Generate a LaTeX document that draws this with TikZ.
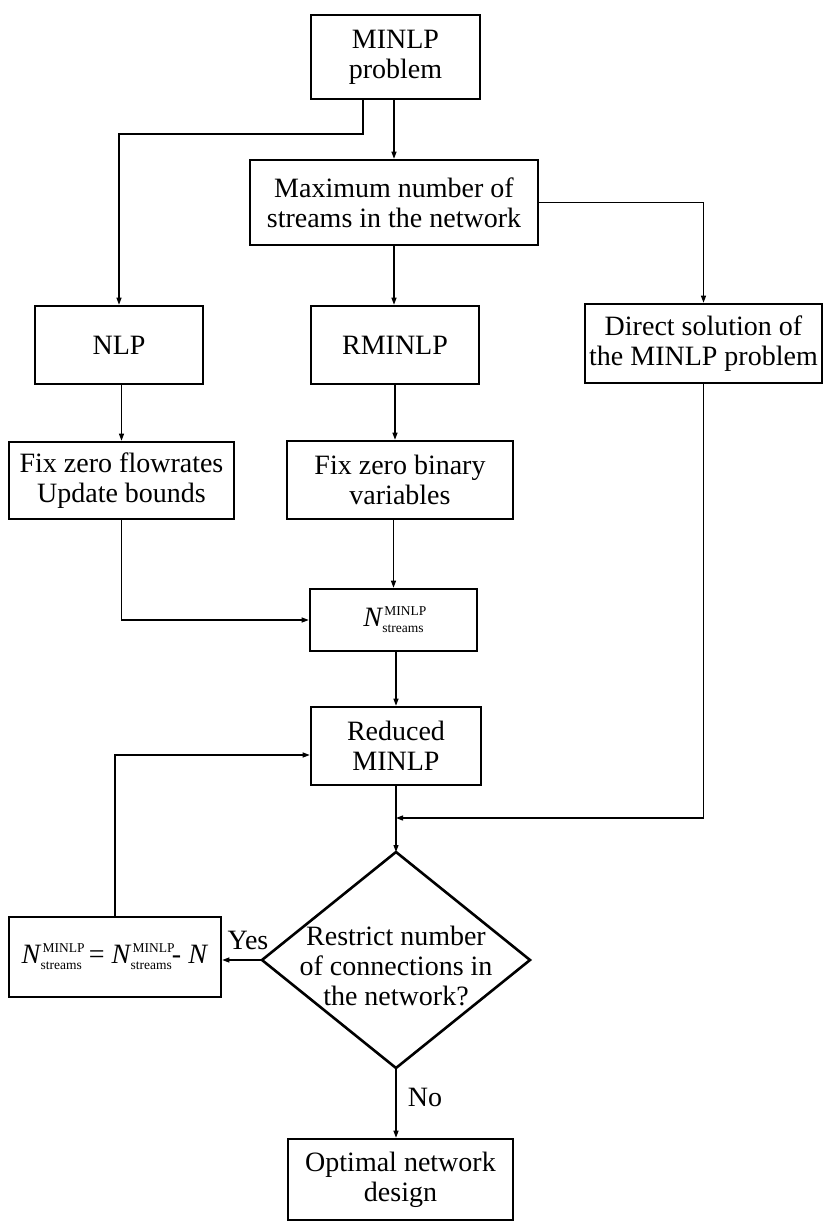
\documentclass[tikz,border=0pt]{standalone}
\usepackage{fontspec}
\setmainfont{Liberation Serif}
\usetikzlibrary{arrows.meta}

% N with stacked MINLP / streams indices
\newcommand{\Nms}{\textit{N}\raisebox{11pt}{\makebox[0pt][l]{\fontsize{13.5}{13.5}\selectfont\kern1pt MINLP}}\raisebox{-6pt}{\fontsize{13.5}{13.5}\selectfont\kern-1pt streams}}

\begin{document}
\begin{tikzpicture}[x=1pt,y=-1pt,
  every node/.style={font=\fontsize{28}{30}\selectfont},
  box/.style={draw, line width=2.6pt, rectangle, inner sep=0pt, align=center},
  conn/.style={line width=1.2pt, -{Triangle[length=7pt,width=5pt]}},
  lbl/.style={inner sep=0pt}]
\useasboundingbox (0,0) rectangle (825,1226);

% process boxes
\node[box, minimum width=169pt, minimum height=84pt] (prob) at (395.5,57) {MINLP\\problem};
\node[box, minimum width=288pt, minimum height=85pt] (max) at (394,202.5) {Maximum number of\\streams in the network};
\node[box, minimum width=168pt, minimum height=78pt] (nlp) at (119,345) {NLP};
\node[box, minimum width=168pt, minimum height=78pt] (rminlp) at (395,345) {RMINLP};
\node[box, minimum width=237pt, minimum height=79pt] (direct) at (703.5,343.5) {Direct solution of\\the MINLP problem};
\node[box, minimum width=225pt, minimum height=77pt] (fixf) at (121.5,480.5) {Fix zero flowrates\\Update bounds};
\node[box, minimum width=226pt, minimum height=78pt] (fixb) at (400,480) {Fix zero binary\\variables};
\node[box, minimum width=167pt, minimum height=62pt] (nstr) at (393.5,620) {\Nms};
\node[box, minimum width=170pt, minimum height=78pt] (red) at (396,746) {Reduced\\MINLP};
\node[box, minimum width=212pt, minimum height=80pt] (nbox) at (115,957) {\Nms\ = \Nms- \textit{N}};
\node[box, minimum width=225pt, minimum height=81pt] (opt) at (400.5,1179.5) {Optimal network\\design};

% decision diamond
\coordinate (dT) at (396,852);
\coordinate (dR) at (530,960);
\coordinate (dB) at (396,1068);
\coordinate (dL) at (262,960);
\draw[line width=2.6pt, line join=miter] (dT) -- (dR) -- (dB) -- (dL) -- cycle;
\node[align=center, inner sep=0pt] (dq) at (396,966) {Restrict number\\of connections in\\the network?};

% junction points
\coordinate (split) at (363,134);
\coordinate (jn) at (396,818);

% connectors
\draw[conn] (prob.south -| max.north) -- (max.north);
\draw[conn] (prob.south -| split) -- (split) -| (nlp.north);
\draw[conn] (max.east) -| (direct.north);
\draw[conn] (max.south) -- (max.south |- rminlp.north);
\draw[conn] (nlp.south -| fixf.north) -- (fixf.north);
\draw[conn] (rminlp.south) -- (rminlp.south |- fixb.north);
\draw[conn] (fixf.south) |- (nstr.west);
\draw[conn] (nstr.north |- fixb.south) -- (nstr.north);
\draw[conn] (nstr.south -| red.north) -- (red.north);
\draw[conn] (red.south) -- (dT);
\draw[conn] (direct.south) |- (jn);
\draw[conn] (dL) -- (dL -| nbox.east);
\draw[conn] (nbox.north) |- ([yshift=-9pt]red.west);
\draw[conn] (dB) -- (dB |- opt.north);

% branch labels
\node[lbl] (yes) at (248,940) {Yes};
\node[lbl] (no) at (425,1097) {No};
\end{tikzpicture}
\end{document}
